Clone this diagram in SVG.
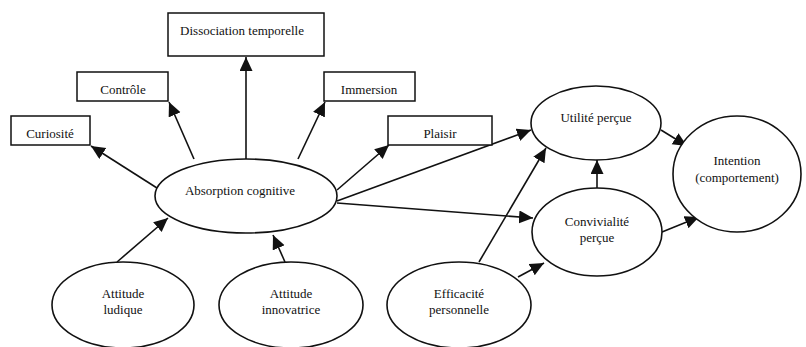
<svg xmlns="http://www.w3.org/2000/svg" width="806" height="347" viewBox="0 0 806 347">
<style>
.box{fill:#fff;stroke:#111;stroke-width:1.5}
.ell{fill:#fff;stroke:#111;stroke-width:1.6}
.t{font-family:"Liberation Serif",serif;font-size:13px;fill:#111;text-anchor:middle}
.c{stroke:#111;stroke-width:1.6;fill:none;marker-end:url(#ah)}
</style>
<defs>
<marker id="ah" markerUnits="userSpaceOnUse" markerWidth="16" markerHeight="14" refX="14" refY="6.5" orient="auto">
<path d="M0,0 L14,6.5 L0,13 z" fill="#111"/>
</marker>
</defs>
<rect width="806" height="347" fill="#fff"/>
<g id="connectors">
<line class="c" x1="246" y1="160" x2="246" y2="57"/>
<line class="c" x1="194" y1="159" x2="169" y2="102"/>
<line class="c" x1="157" y1="188" x2="91" y2="146"/>
<line class="c" x1="298" y1="159" x2="325" y2="102"/>
<line class="c" x1="337" y1="190" x2="389" y2="145"/>
<line class="c" x1="337" y1="201" x2="531" y2="130"/>
<line class="c" x1="337" y1="203" x2="533" y2="218"/>
<line class="c" x1="479" y1="262" x2="546" y2="148"/>
<line class="c" x1="518" y1="277" x2="544" y2="263"/>
<line class="c" x1="597" y1="188" x2="597" y2="160"/>
<line class="c" x1="661" y1="130" x2="687" y2="146"/>
<line class="c" x1="662" y1="232" x2="699" y2="217"/>
<line class="c" x1="117" y1="262" x2="168" y2="218"/>
<line class="c" x1="285" y1="262" x2="273" y2="235"/>
</g>
<g id="dissociation"><rect class="box" x="168" y="13" width="156" height="43"/><text class="t" x="242" y="35">Dissociation temporelle</text></g>
<g id="controle"><rect class="box" x="77" y="72" width="91" height="29"/><text class="t" x="123" y="94">Contrôle</text></g>
<g id="curiosite"><rect class="box" x="11" y="116" width="79" height="29"/><text class="t" x="50" y="138">Curiosité</text></g>
<g id="immersion"><rect class="box" x="324" y="72" width="91" height="29"/><text class="t" x="369" y="94">Immersion</text></g>
<g id="plaisir"><rect class="box" x="388" y="116" width="104" height="29"/><text class="t" x="440" y="138">Plaisir</text></g>
<g id="absorption"><ellipse class="ell" cx="246" cy="196" rx="91" ry="37"/><text class="t" x="240" y="195">Absorption cognitive</text></g>
<g id="utilite"><ellipse class="ell" cx="596" cy="123" rx="65" ry="37"/><text class="t" x="596" y="122">Utilité perçue</text></g>
<g id="intention"><ellipse class="ell" cx="737" cy="174" rx="64" ry="58"/><text class="t" x="737" y="165">Intention</text><text class="t" x="737" y="182">(comportement)</text></g>
<g id="convivialite"><ellipse class="ell" cx="597" cy="232" rx="65" ry="44"/><text class="t" x="597" y="226">Convivialité</text><text class="t" x="597" y="242">perçue</text></g>
<g id="efficacite"><ellipse class="ell" cx="459" cy="305" rx="72" ry="43"/><text class="t" x="459" y="298">Efficacité</text><text class="t" x="459" y="314">personnelle</text></g>
<g id="ludique"><ellipse class="ell" cx="123" cy="305" rx="71" ry="43"/><text class="t" x="123" y="298">Attitude</text><text class="t" x="123" y="314">ludique</text></g>
<g id="innovatrice"><ellipse class="ell" cx="291" cy="305" rx="72" ry="43"/><text class="t" x="291" y="298">Attitude</text><text class="t" x="291" y="314">innovatrice</text></g>
</svg>
